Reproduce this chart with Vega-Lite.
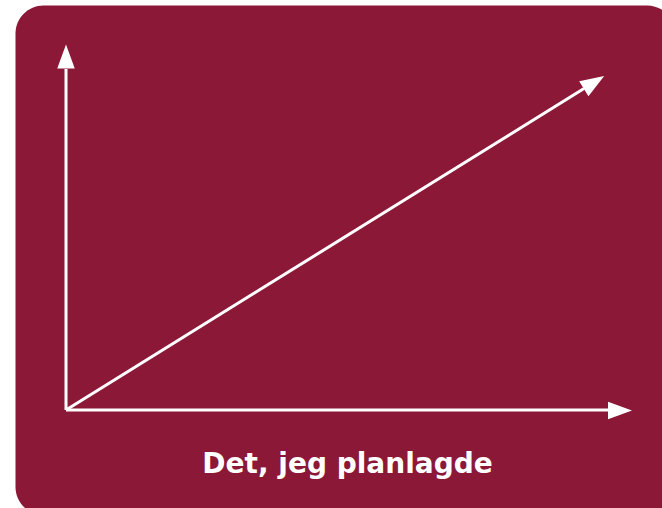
{
  "$schema": "https://vega.github.io/schema/vega-lite/v6.json",
  "width": 662,
  "height": 508,
  "autosize": {"type": "fit", "contains": "padding"},
  "padding": 0,
  "background": "white",
  "config": {"view": {"stroke": null}},
  "datasets": {
    "panel": [{"x": -50.5, "x2": 609, "y": -105, "y2": 404.5}],
    "lines": [
      {"name": "x-axis", "x": 0, "y": 0, "x2": 542, "y2": 0},
      {"name": "y-axis", "x": 0, "y": 0, "x2": 0, "y2": 341},
      {"name": "trend", "x": 0, "y": 0, "x2": 518, "y2": 321.5}
    ],
    "heads": [
      {"dir": "x", "x": 554, "y": -0.5},
      {"dir": "y", "x": 0, "y": 353.5},
      {"dir": "trend", "x": 528, "y": 327.6}
    ],
    "label": [{"x": 281.5, "y": -63, "text": "Det, jeg planlagde"}]
  },
  "encoding": {
    "x": {"type": "quantitative", "scale": {"domain": [-66, 596], "nice": false, "zero": false}, "axis": null},
    "y": {"type": "quantitative", "scale": {"domain": [-98, 410], "nice": false, "zero": false}, "axis": null}
  },
  "layer": [
    {
      "data": {"name": "panel"},
      "mark": {"type": "rect", "color": "#8B1837", "cornerRadius": 28, "clip": true},
      "encoding": {
        "x": {"field": "x", "type": "quantitative"},
        "x2": {"field": "x2"},
        "y": {"field": "y", "type": "quantitative"},
        "y2": {"field": "y2"}
      }
    },
    {
      "data": {"name": "lines"},
      "mark": {"type": "rule", "color": "white", "strokeWidth": 3},
      "encoding": {
        "x": {"field": "x", "type": "quantitative"},
        "x2": {"field": "x2"},
        "y": {"field": "y", "type": "quantitative"},
        "y2": {"field": "y2"}
      }
    },
    {
      "data": {"name": "heads"},
      "transform": [{"filter": "datum.dir === 'x'"}],
      "mark": {"type": "point", "shape": "M1,0L-1,-0.73L-1,0.73Z", "filled": true, "color": "white", "opacity": 1, "size": 576, "strokeWidth": 0, "angle": 0},
      "encoding": {
        "x": {"field": "x", "type": "quantitative"},
        "y": {"field": "y", "type": "quantitative"}
      }
    },
    {
      "data": {"name": "heads"},
      "transform": [{"filter": "datum.dir === 'y'"}],
      "mark": {"type": "point", "shape": "M1,0L-1,-0.73L-1,0.73Z", "filled": true, "color": "white", "opacity": 1, "size": 576, "strokeWidth": 0, "angle": 270},
      "encoding": {
        "x": {"field": "x", "type": "quantitative"},
        "y": {"field": "y", "type": "quantitative"}
      }
    },
    {
      "data": {"name": "heads"},
      "transform": [{"filter": "datum.dir === 'trend'"}],
      "mark": {"type": "point", "shape": "M1,0L-1,-0.73L-1,0.73Z", "filled": true, "color": "white", "opacity": 1, "size": 576, "strokeWidth": 0, "angle": 328},
      "encoding": {
        "x": {"field": "x", "type": "quantitative"},
        "y": {"field": "y", "type": "quantitative"}
      }
    },
    {
      "data": {"name": "label"},
      "mark": {"type": "text", "color": "white", "font": "DejaVu Sans", "fontWeight": "bold", "fontSize": 28, "align": "center", "baseline": "alphabetic"},
      "encoding": {
        "x": {"field": "x", "type": "quantitative"},
        "y": {"field": "y", "type": "quantitative"},
        "text": {"field": "text"}
      }
    }
  ]
}
